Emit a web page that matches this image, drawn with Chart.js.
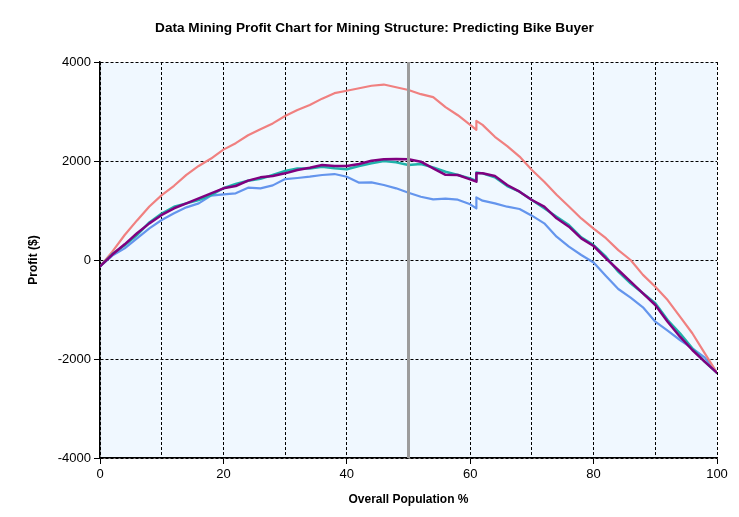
<!DOCTYPE html>
<html>
<head>
<meta charset="utf-8">
<script src="https://cdn.jsdelivr.net/npm/chart.js@4/dist/chart.umd.min.js"></script>
<style>
  html, body { margin: 0; padding: 0; background: #ffffff; }
  #wrap { width: 739px; height: 517px; }
</style>
</head>
<body>
<div id="wrap"><canvas id="c" width="739" height="517"></canvas></div>
<script>
// Overall population % (61 appears twice: the curves jump there)
const population = [0,2,4,6,8,10,12,14,16,18,20,22,24,26,28,30,32,34,36,38,40,42,44,46,48,50,52,54,56,58,60,61,61,62,64,66,68,70,72,74,76,78,80,82,84,86,88,90,92,94,96,98,100];

const idealModel = [-130,170,505,800,1080,1310,1500,1720,1900,2050,2230,2360,2520,2640,2760,2910,3030,3130,3260,3370,3420,3470,3520,3545,3490,3435,3350,3290,3090,2925,2730,2630,2810,2730,2490,2300,2090,1820,1580,1320,1080,840,635,440,200,0,-300,-540,-810,-1145,-1480,-1880,-2280];

const tealModel = [-130,120,300,505,760,940,1075,1145,1210,1310,1450,1535,1600,1640,1717,1800,1850,1850,1885,1852,1832,1899,1953,2000,1973,1919,1939,1872,1784,1717,1650,1600,1770,1750,1670,1495,1380,1212,1044,875,707,458,300,67,-236,-471,-673,-875,-1212,-1481,-1785,-2054,-2280];

const purpleModel = [-130,110,317,540,740,910,1045,1145,1245,1345,1448,1495,1603,1670,1697,1751,1818,1865,1919,1899,1899,1939,2006,2034,2040,2034,1986,1852,1720,1717,1630,1582,1751,1751,1697,1515,1380,1212,1077,842,673,438,283,34,-202,-438,-673,-909,-1246,-1549,-1818,-2054,-2280];

const blueModel = [-130,90,236,438,640,808,943,1064,1145,1300,1327,1347,1461,1448,1508,1636,1657,1683,1717,1737,1683,1562,1569,1515,1448,1360,1279,1226,1239,1219,1125,1044,1266,1199,1145,1077,1030,896,741,471,269,101,-50,-323,-586,-761,-956,-1246,-1428,-1616,-1785,-1966,-2280];

// Vertical marker at 50 %
const markerX = [50, 50];
const markerY = [-4000, 4000];

const xTicksLabelEvery = 20;
const yTicks = [-4000, -2000, 0, 2000, 4000];

function pts(xs, ys) { return xs.map((x, i) => ({ x: x, y: ys[i] })); }

const plotBg = {
  id: 'plotBg',
  beforeDraw(chart) {
    const { ctx, chartArea: a } = chart;
    ctx.save();
    ctx.fillStyle = '#ffffff';
    ctx.fillRect(0, 0, chart.width, chart.height);
    ctx.fillStyle = '#F0F8FF';
    ctx.fillRect(a.left, a.top, a.right - a.left, a.bottom - a.top);
    ctx.restore();
  }
};

const lineDs = (data, color, width, order) => ({
  data: data, borderColor: color, borderWidth: width, pointRadius: 0,
  tension: 0, fill: false, order: order, borderJoinStyle: 'round', borderCapStyle: 'round'
});

new Chart(document.getElementById('c'), {
  type: 'line',
  data: {
    datasets: [
      lineDs(pts(markerX, markerY), '#9c9c9c', 3, 0),
      lineDs(pts(population, purpleModel), '#800080', 2.5, 1),
      lineDs(pts(population, tealModel), '#20B2AA', 2.5, 2),
      lineDs(pts(population, idealModel), '#F08080', 2.2, 3),
      lineDs(pts(population, blueModel), '#6495ED', 2.2, 4)
    ]
  },
  options: {
    responsive: false,
    animation: false,
    devicePixelRatio: 1,
    layout: { padding: { left: 16, right: 6, top: 0, bottom: 0 } },
    plugins: {
      legend: { display: false },
      tooltip: { enabled: false },
      title: {
        display: true,
        text: 'Data Mining Profit Chart for Mining Structure: Predicting Bike Buyer',
        color: '#000',
        font: { family: 'Liberation Sans', size: 13.6, weight: 'bold' },
        padding: { top: 20, bottom: 25.7 }
      }
    },
    scales: {
      x: {
        type: 'linear', min: 0, max: 100,
        afterFit(s) { s.height = 59; s.paddingRight = 22; },
        ticks: {
          stepSize: 10, autoSkip: false, maxRotation: 0, padding: 3,
          color: '#000', font: { family: 'Liberation Sans', size: 13 },
          callback: v => (v % xTicksLabelEvery === 0 ? String(v) : '')
        },
        grid: {
          color: '#000', lineWidth: 1, tickLength: 6,
          tickColor: c => (c.tick && c.tick.value % xTicksLabelEvery === 0 ? '#000' : 'rgba(0,0,0,0)')
        },
        border: { display: true, color: '#000', width: 1.5, dash: [3, 2] },
        title: {
          display: true, text: 'Overall Population %', color: '#000',
          font: { family: 'Liberation Sans', size: 12, weight: 'bold' },
          padding: { top: 0, bottom: 10 }
        }
      },
      y: {
        min: -4000, max: 4000,
        afterFit(s) { s.width = 84; },
        afterBuildTicks(s) { s.ticks = yTicks.map(v => ({ value: v })); },
        ticks: {
          padding: 3, color: '#000', font: { family: 'Liberation Sans', size: 13 },
          callback: v => String(v)
        },
        grid: { color: '#000', lineWidth: 1, tickLength: 6, tickColor: '#000' },
        border: { display: true, color: '#000', width: 1.5, dash: [3, 2] },
        title: {
          display: true, text: 'Profit ($)', color: '#000',
          font: { family: 'Liberation Sans', size: 12, weight: 'bold' },
          padding: { top: 10, bottom: 0 }
        }
      }
    }
  },
  plugins: [plotBg]
});
</script>
</body>
</html>
